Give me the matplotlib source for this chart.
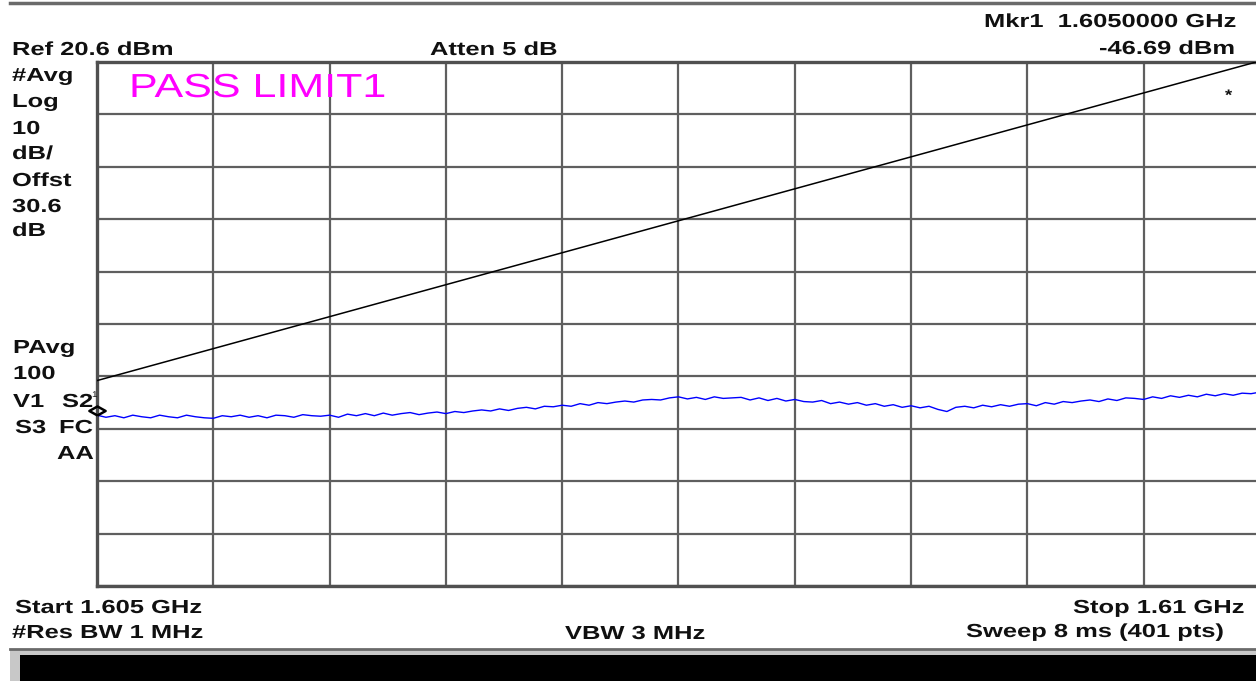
import numpy as np
import matplotlib
matplotlib.use("Agg")
import matplotlib.pyplot as plt
from matplotlib.patheffects import AbstractPathEffect
from matplotlib.transforms import Affine2D

# ---------------- data ----------------
START_GHZ = 1.605
STOP_GHZ = 1.61
REF_DBM = 20.6
DB_PER_DIV = 10
N_DIV = 10

LIMIT_FREQ = [1.605, 1.61]
LIMIT_DBM = [-40.2, 20.8]

TRACE_DBM = [
    -46.8, -47.2, -46.9, -47.3, -46.8, -47.1, -47.3, -46.8, -47.1, -47.3, -46.8, -47.1, -47.3,
    -47.4, -46.9, -47.1, -46.8, -47.2, -46.9, -47.3, -46.8, -46.9, -47.2, -46.7, -46.9, -47.0,
    -46.8, -47.2, -46.6, -46.9, -46.5, -46.9, -46.4, -46.8, -46.5, -46.3, -46.7, -46.4, -46.2,
    -46.5, -46.1, -46.3, -46.0, -45.8, -46.0, -45.6, -45.9, -45.5, -45.3, -45.6, -45.1, -45.2,
    -44.9, -45.1, -44.6, -44.9, -44.4, -44.6, -44.3, -44.1, -44.3, -43.9, -43.8, -43.9, -43.5,
    -43.3, -43.7, -43.4, -43.8, -43.3, -43.6, -43.5, -43.4, -43.9, -43.5, -44.0, -43.6, -44.1,
    -43.8, -44.2, -44.3, -44.0, -44.6, -44.3, -44.7, -44.4, -44.9, -44.6, -45.1, -44.8, -45.3,
    -45.0, -45.4, -45.1, -45.7, -46.1, -45.3, -45.1, -45.4, -44.9, -45.2, -44.8, -45.1, -44.7,
    -44.6, -45.0, -44.4, -44.7, -44.2, -44.4, -44.1, -43.9, -44.2, -43.7, -44.0, -43.5, -43.6,
    -43.8, -43.3, -43.6, -43.1, -43.4, -43.0, -43.3, -42.8, -43.1, -42.7, -43.0, -42.6, -42.7, -42.4,
]
TRACE_FREQ = np.linspace(START_GHZ, STOP_GHZ, len(TRACE_DBM))

MARKER_FREQ = 1.605
MARKER_DBM = -46.69

# ---------------- figure ----------------
W, H = 1256, 681
fig = plt.figure(figsize=(W / 100, H / 100), dpi=100)
fig.patch.set_facecolor("white")

TXT = "#101010"
GRID = "#5f5f5f"


class HStretch(AbstractPathEffect):
    def __init__(self, sx):
        super().__init__()
        self.sx = sx

    def draw_path(self, renderer, gc, tpath, affine, rgbFace=None):
        renderer.draw_path(gc, tpath, Affine2D().scale(self.sx, 1.0) + affine, rgbFace)


def ftext(x, y, s, size=13.6, weight="bold", color=TXT, sx=1.35, family="Liberation Sans"):
    fig.text(x / W, 1 - y / H, s, fontsize=size, fontweight=weight, color=color,
             family=family, ha="left", va="baseline",
             path_effects=[HStretch(sx)])


# axes (graticule)
x0, y0, x1, y1 = 97, 62, 1260, 586
ax = fig.add_axes([x0 / W, 1 - y1 / H, (x1 - x0) / W, (y1 - y0) / H])
ax.set_xlim(START_GHZ, STOP_GHZ)
ax.set_ylim(REF_DBM - N_DIV * DB_PER_DIV, REF_DBM)
ax.set_xticks(np.linspace(START_GHZ, STOP_GHZ, N_DIV + 1))
ax.set_yticks(np.linspace(REF_DBM - N_DIV * DB_PER_DIV, REF_DBM, N_DIV + 1))
ax.tick_params(length=0, labelbottom=False, labelleft=False)
ax.grid(True, color=GRID, lw=1.6)
for sp in ax.spines.values():
    sp.set_color("#505050")
    sp.set_linewidth(2.4)

ax.plot(LIMIT_FREQ, LIMIT_DBM, color="black", lw=1.1, zorder=3)
ax.plot(TRACE_FREQ, TRACE_DBM, color="#0000ff", lw=1.0, zorder=4)

diamond = [(0, 0), (1.8, 1), (0, 2), (-1.8, 1), (0, 0)]
ax.plot([MARKER_FREQ], [MARKER_DBM], marker=diamond, ms=13, mfc="none",
        mec="black", mew=1.8, clip_on=False, zorder=5)

# ---------------- annotations ----------------
ftext(12, 55, "Ref 20.6 dBm")
ftext(430, 55, "Atten 5 dB")
ftext(984, 27, "Mkr1  1.6050000 GHz")
ftext(1099, 54, "-46.69 dBm")

left_col = ["#Avg", "Log", "10", "dB/", "Offst", "30.6", "dB"]
left_base = [81, 107, 134, 159, 186, 212, 236]
for s, yb in zip(left_col, left_base):
    ftext(12, yb, s)

ftext(13, 353, "PAvg")
ftext(13, 379, "100")
ftext(13, 407, "V1")
ftext(62, 407, "S2")
ftext(15, 433, "S3")
ftext(59, 433, "FC")
ftext(57, 459, "AA")
ftext(92, 397, "1", size=6, weight="normal", sx=1.2)

ftext(129, 97, "PASS LIMIT1", size=24, weight="normal", color="#ff00ff", sx=1.29)
ftext(1225, 100, "*", size=11, sx=1.2)

ftext(15, 613, "Start 1.605 GHz")
ftext(12, 638, "#Res BW 1 MHz")
ftext(565, 639, "VBW 3 MHz")
ftext(1073, 613, "Stop 1.61 GHz")
ftext(966, 637, "Sweep 8 ms (401 pts)")

# ---------------- chrome ----------------
fig.add_artist(plt.Line2D([10 / W, 1], [1 - 3 / H, 1 - 3 / H], color="#6a6a6a", lw=2.5))
fig.add_artist(plt.Rectangle((10 / W, 0), 1 - 10 / W, (H - 649) / H, color="#c8c8c8", lw=0))
fig.add_artist(plt.Line2D([10 / W, 1], [1 - 649 / H, 1 - 649 / H], color="#6a6a6a", lw=2.0))
fig.add_artist(plt.Rectangle((20 / W, 0), 1 - 20 / W, (H - 655) / H, color="black", lw=0))

fig.savefig("out.png", dpi=100)
